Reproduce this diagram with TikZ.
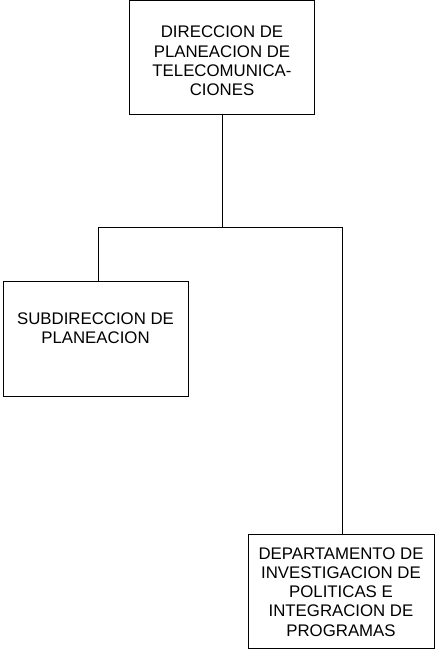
\documentclass[tikz,border=0pt]{standalone}
\usepackage{fontspec}
\setmainfont{Liberation Sans}
\begin{document}
\begin{tikzpicture}[x=1pt,y=-1pt,
  box/.style={draw,line width=0.9pt,inner sep=0pt},
  lbl/.style={align=center,inner sep=0pt,font=\fontsize{16.8}{19.2}\selectfont},
  conn/.style={line width=0.9pt}]
\useasboundingbox (0,0) rectangle (435,652);
% boxes
\node[box,minimum width=185pt,minimum height=114pt] (top) at (222,57) {};
\node[box,minimum width=185pt,minimum height=115pt] (sub) at (95.5,338.5) {};
\node[box,minimum width=186pt,minimum height=114pt] (dep) at (341,591) {};
% texts
\node[lbl] (toptxt) at (222,61) {DIRECCION DE\\PLANEACION DE\\TELECOMUNICA-\\CIONES};
\node[lbl] (subtxt) at (95.5,328) {SUBDIRECCION DE\\PLANEACION};
\node[lbl] (deptxt) at (341,592) {DEPARTAMENTO DE\\INVESTIGACION DE\\POLITICAS E\\INTEGRACION DE\\PROGRAMAS};
% connectors
\coordinate (j) at (222,227);
\coordinate (jl) at (98,227);
\coordinate (jr) at (342,227);
\draw[conn] (top.south) -- (j);
\draw[conn] (jl) -- (jr);
\draw[conn] (jl) -- (jl |- sub.north);
\draw[conn] (jr) -- (jr |- dep.north);
\end{tikzpicture}
\end{document}
